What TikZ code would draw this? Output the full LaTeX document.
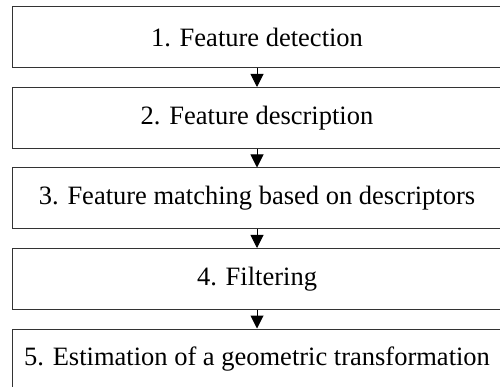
\documentclass[tikz,border=0pt]{standalone}
\usepackage{fontspec}
\setmainfont{Liberation Serif}
\usetikzlibrary{arrows.meta}
\begin{document}
\begin{tikzpicture}[x=1pt,y=-1pt,
  stepbox/.style={draw=black!80, line width=1pt, rectangle, minimum width=490pt, minimum height=61pt, inner sep=0pt, font=\fontsize{26.5}{31}\selectfont},
  flow/.style={draw=black, line width=1pt, -{Triangle[width=13pt,length=13pt]}}]
\useasboundingbox (0,0) rectangle (500,387);
\clip (0,0) rectangle (500,387);
\fill[white] (0,0) rectangle (500,387);
\node[stepbox] (s1) at (257,37.5) {1. Feature detection};
\node[stepbox] (s2) at (257,118) {2. Feature description};
\node[stepbox] (s3) at (257,198.5) {3. Feature matching based on descriptors};
\node[stepbox] (s4) at (257,279) {4. Filtering};
\node[stepbox] (s5) at (257,359.5) {5. Estimation of a geometric transformation};
\draw[flow] (s1.south) -- (s2.north);
\draw[flow] (s2.south) -- (s3.north);
\draw[flow] (s3.south) -- (s4.north);
\draw[flow] (s4.south) -- (s5.north);
\end{tikzpicture}
\end{document}
